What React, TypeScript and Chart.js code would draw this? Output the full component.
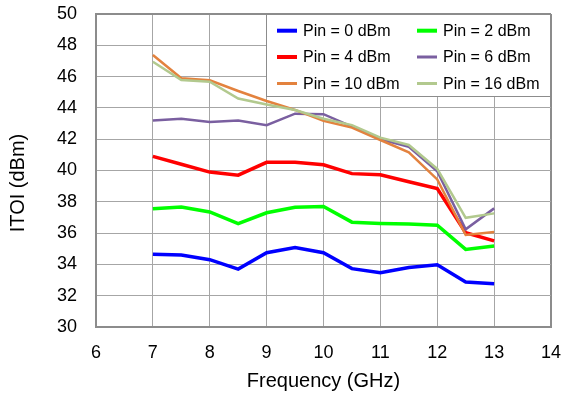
import React, { useEffect, useRef } from "react";
import { Chart, registerables } from "chart.js";

Chart.register(...registerables);

const frequencies = [7, 7.5, 8, 8.5, 9, 9.5, 10, 10.5, 11, 11.5, 12, 12.5, 13];
const pin0 = [34.65, 34.6, 34.3, 33.7, 34.75, 35.08, 34.75, 33.73, 33.47, 33.8, 33.97, 32.87, 32.77];
const pin2 = [37.55, 37.67, 37.35, 36.6, 37.3, 37.65, 37.7, 36.7, 36.62, 36.58, 36.5, 34.96, 35.18];
const pin4 = [40.9, 40.4, 39.9, 39.7, 40.52, 40.52, 40.37, 39.8, 39.73, 39.28, 38.84, 36.03, 35.5];
const pin6 = [43.2, 43.3, 43.1, 43.2, 42.9, 43.63, 43.6, 42.8, 42.0, 41.52, 39.95, 36.24, 37.58];
const pin10 = [47.38, 45.89, 45.76, 45.08, 44.44, 43.87, 43.18, 42.74, 41.95, 41.16, 39.43, 35.88, 36.07];
const pin16 = [46.95, 45.78, 45.67, 44.6, 44.22, 43.87, 43.31, 42.9, 42.1, 41.63, 40.1, 36.98, 37.26];

const seriesLabels = ["Pin = 0 dBm", "Pin = 2 dBm", "Pin = 4 dBm", "Pin = 6 dBm", "Pin = 10 dBm", "Pin = 16 dBm"];
const seriesData = [pin0, pin2, pin4, pin6, pin10, pin16];
const seriesColors = ["#0000FF", "#00FF00", "#FF0000", "#7A5FA0", "#E3823E", "#B2C98E"];
const seriesWidths = [3.5, 3.5, 3.5, 2.5, 2.5, 2.5];

const xMin = 6, xMax = 14, xStep = 1;
const yMin = 30, yMax = 50, yStep = 2;
const xTitle = "Frequency (GHz)";
const yTitle = "ITOI (dBm)";

const FONT = '"Liberation Sans", Arial, sans-serif';

export default function App() {
  const ref = useRef<HTMLCanvasElement>(null);

  useEffect(() => {
    document.body.style.margin = "0";
    const canvas = ref.current;
    if (!canvas) return;

    const legendPlugin = {
      id: "boxLegend",
      afterDatasetsDraw(chart: any) {
        const c = chart.ctx as CanvasRenderingContext2D;
        const area = chart.chartArea;
        const left = 266, top = area.top, right = area.right, bottom = 96;
        c.save();
        c.fillStyle = "#ffffff";
        c.fillRect(left, top + 1, right - left - 1, bottom - top - 1);
        c.strokeStyle = "#8c8c8c";
        c.lineWidth = 1;
        c.strokeRect(left + 0.5, top + 0.5, right - left - 1, bottom - top);
        const rows = [30.7, 57, 83.5];
        const colLine = [277, 417];
        const colText = [303, 443];
        c.font = `16px ${FONT}`;
        c.textBaseline = "middle";
        c.textAlign = "left";
        seriesLabels.forEach((lab, i) => {
          const col = i % 2;
          const row = Math.floor(i / 2);
          const y = rows[row];
          c.strokeStyle = seriesColors[i];
          c.lineWidth = i < 3 ? 4 : 3;
          c.beginPath();
          c.moveTo(colLine[col], y);
          c.lineTo(colLine[col] + 20, y);
          c.stroke();
          c.fillStyle = "#000";
          c.fillText(lab, colText[col], y + 1);
        });
        c.restore();
      },
      afterDraw(chart: any) {
        const c = chart.ctx as CanvasRenderingContext2D;
        c.save();
        c.translate(18, 183);
        c.rotate(-Math.PI / 2);
        c.font = `20px ${FONT}`;
        c.fillStyle = "#000";
        c.textAlign = "center";
        c.textBaseline = "middle";
        c.fillText(yTitle, 0, 0);
        c.restore();
      },
    };

    const chart = new Chart(canvas, {
      type: "line",
      data: {
        datasets: seriesLabels.map((label, i) => ({
          label,
          data: frequencies.map((f, j) => ({ x: f, y: seriesData[i][j] })),
          borderColor: seriesColors[i],
          backgroundColor: seriesColors[i],
          borderWidth: seriesWidths[i],
          pointRadius: 0,
          tension: 0,
          fill: false,
          order: seriesLabels.length - i,
        })),
      },
      options: {
        responsive: false,
        animation: false,
        devicePixelRatio: 1,
        layout: { padding: { left: 0, top: 14, right: 15, bottom: 0 } },
        plugins: { legend: { display: false }, tooltip: { enabled: false } },
        scales: {
          x: {
            type: "linear",
            min: xMin,
            max: xMax,
            afterFit: (s: any) => {
              s.height = 69;
              s.paddingLeft = 0;
              s.paddingRight = 0;
            },
            ticks: { stepSize: xStep, padding: 15, color: "#000", font: { family: FONT, size: 18 } },
            grid: {
              drawTicks: false,
              color: (ctx: any) => (ctx.tick && ctx.tick.value === xMax ? "#8c8c8c" : "#a6a6a6"),
              lineWidth: (ctx: any) => (ctx.tick && ctx.tick.value === xMax ? 2 : 1),
            },
            border: { display: true, color: "#8c8c8c", width: 2 },
            title: { display: true, text: xTitle, color: "#000", font: { family: FONT, size: 20 }, padding: { top: 0, bottom: 3 } },
          },
          y: {
            type: "linear",
            min: yMin,
            max: yMax,
            afterFit: (s: any) => {
              s.width = 96;
              s.paddingTop = 0;
              s.paddingBottom = 0;
            },
            ticks: { stepSize: yStep, padding: 19, color: "#000", font: { family: FONT, size: 18 } },
            grid: {
              drawTicks: false,
              color: (ctx: any) => (ctx.tick && ctx.tick.value === yMax ? "#8c8c8c" : "#a6a6a6"),
              lineWidth: (ctx: any) => (ctx.tick && ctx.tick.value === yMax ? 2 : 1),
            },
            border: { display: true, color: "#8c8c8c", width: 2 },
            title: { display: false },
          },
        },
      },
      plugins: [legendPlugin],
    } as any);

    return () => chart.destroy();
  }, []);

  return (
    <div style={{ position: "absolute", left: 0, top: 0, width: 566, height: 396 }}>
      <canvas ref={ref} width={566} height={396} style={{ width: 566, height: 396 }} />
    </div>
  );
}
